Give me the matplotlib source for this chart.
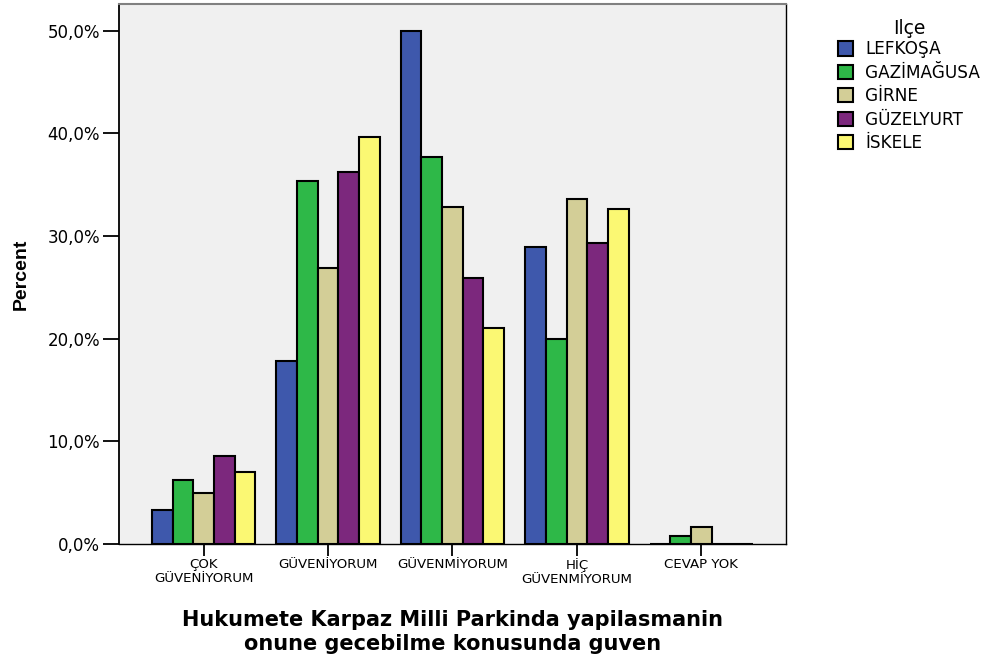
#============================================================
# plot.py  -- grouped bar chart, Ilce vs guven
#============================================================
import numpy as np
import matplotlib
matplotlib.use('Agg')
import matplotlib.pyplot as plt
from matplotlib.ticker import FuncFormatter

plt.rcParams['font.family'] = ['DejaVu Sans']

#------------------------------------------------------------
categories = ['ÇOK\nGÜVENİYORUM', 'GÜVENİYORUM', 'GÜVENMİYORUM',
              'HİÇ\nGÜVENMİYORUM', 'CEVAP YOK']
ilce = ['LEFKOŞA', 'GAZİMAĞUSA', 'GİRNE', 'GÜZELYURT', 'İSKELE']

lefkosa    = [3.3, 17.8, 50.0, 28.9, 0.0]
gazimagusa = [6.2, 35.4, 37.7, 20.0, 0.8]
girne      = [5.0, 26.9, 32.8, 33.6, 1.7]
guzelyurt  = [8.6, 36.2, 25.9, 29.3, 0.0]
iskele     = [7.0, 39.6, 21.0, 32.6, 0.0]

colors = ['#3E58AC', '#2EB848', '#D3CE97', '#7C287D', '#FBF873']

#------------------------------------------------------------
fig = plt.figure(figsize=(9.9, 6.64), dpi=100)
ax = fig.add_axes([0.1202, 0.1807, 0.6737, 0.8133])
ax.set_facecolor('#F0F0F0')

series = [lefkosa, gazimagusa, girne, guzelyurt, iskele]
x = np.arange(len(categories))
w = 0.166
for i, (vals, c, name) in enumerate(zip(series, colors, ilce)):
    ax.bar(x + (i - 2) * w, vals, w, color=c, edgecolor='black',
           linewidth=1.5, label=name, zorder=3)

ax.set_xlim(-0.68, 4.68)
ax.set_ylim(0, 52.6)
ax.set_yticks([0, 10, 20, 30, 40, 50])
ax.yaxis.set_major_formatter(FuncFormatter(lambda v, p: ('%.1f%%' % v).replace('.', ',')))
ax.set_xticks(x)
ax.set_xticklabels(categories, fontsize=9.6, linespacing=1.12)

ax.tick_params(axis='y', length=11.5, width=1.3, labelsize=12, pad=2)
ax.tick_params(axis='x', length=8.5, width=1.3, pad=1.5)

for s in ['left', 'bottom', 'right']:
    ax.spines[s].set_color('black')
ax.spines['left'].set_linewidth(1.3)
ax.spines['bottom'].set_linewidth(1.0)
ax.spines['right'].set_linewidth(1.0)
ax.spines['top'].set_color('#808080')
ax.spines['top'].set_linewidth(1.5)

ax.set_ylabel('Percent', fontsize=14, fontweight='bold', labelpad=13,
              family=['Liberation Sans', 'DejaVu Sans'])
ax.set_xlabel('Hukumete Karpaz Milli Parkinda yapilasmanin\nonune gecebilme konusunda guven',
              fontsize=15, fontweight='bold', labelpad=17, linespacing=1.3)

leg = ax.legend(loc='upper left', bbox_to_anchor=(1.06, 0.995), frameon=False,
                title='Ilçe', fontsize=12.2, title_fontsize=13.5,
                handlelength=0.9, handleheight=0.9, handletextpad=0.71,
                labelspacing=0.32, borderaxespad=0.3)
leg._legend_box.sep = 2

plt.savefig('out.png', dpi=100)

#------------------------------------------------------------
#        END OF FILE : PLOT.PY
#============================================================
